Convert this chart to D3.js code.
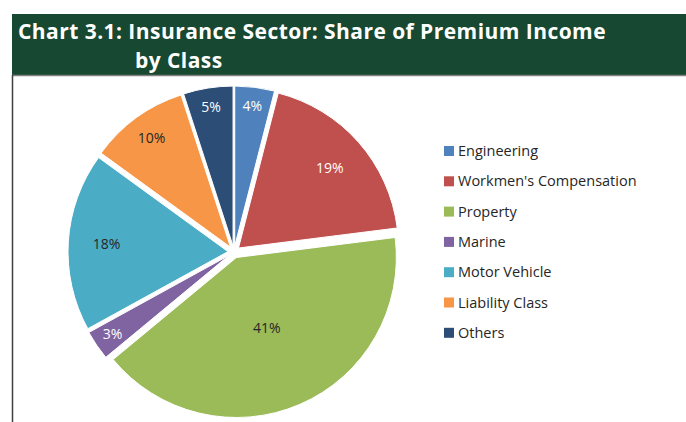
<!DOCTYPE html>
<html>
<head>
<meta charset="utf-8">
<script src="https://cdn.jsdelivr.net/npm/d3@7"></script>
<style>
  body { margin: 0; background: #fff; }
  svg { display: block; }
</style>
</head>
<body>
<svg id="chart"></svg>
<script>
// Share of premium income by class (%)
const categories = ['Engineering', "Workmen's Compensation", 'Property', 'Marine', 'Motor Vehicle', 'Liability Class', 'Others'];
const shares = [4, 19, 41, 3, 18, 10, 5];
const colors = ['#4F81BD', '#C0504D', '#9BBB59', '#8064A2', '#4BACC6', '#F79646', '#2C4D75'];
const labelColors = ['#fff', '#fff', '#262626', '#fff', '#262626', '#262626', '#fff'];

const width = 686;
const height = 422;

const svg = d3.select('#chart')
  .attr('width', width)
  .attr('height', height)
  .attr('viewBox', `0 0 ${width} ${height}`);

// Header band
svg.append('rect')
  .attr('x', 12).attr('y', 14)
  .attr('width', width - 12).attr('height', 61)
  .attr('fill', '#174832');

svg.append('line')
  .attr('x1', 12).attr('x2', width)
  .attr('y1', 75.5).attr('y2', 75.5)
  .attr('stroke', '#808080').attr('stroke-width', 1.5);

// left frame line
svg.append('line')
  .attr('x1', 12.5).attr('x2', 12.5)
  .attr('y1', 75).attr('y2', height)
  .attr('stroke', '#404040').attr('stroke-width', 1.5);

const titleLine = (txt, x, y) => svg.append('text')
  .attr('x', x).attr('y', y)
  .attr('fill', '#fff')
  .attr('font-family', '"Open Sans", sans-serif')
  .attr('font-weight', 'bold')
  .attr('font-size', '21px')
  .attr('letter-spacing', '0.45px')
  .text(txt);
titleLine('Chart 3.1: Insurance Sector: Share of Premium Income', 18, 39);
titleLine('by Class', 135, 68);

// Pie
const cx = 234, cy = 252, r = 160, explode = 6;

const pie = d3.pie().sort(null).value(d => d.value);
const arcs = pie(shares.map((v, i) => ({ name: categories[i], value: v, i })));
const arc = d3.arc().innerRadius(0).outerRadius(r);

// label distance from centre, Excel-like best fit
const labelRadius = v => v >= 30 ? 0.48 * r : v >= 15 ? 0.76 * r : v >= 8 ? 0.84 * r : 0.88 * r;

const g = svg.append('g').attr('transform', `translate(${cx},${cy})`);

const slice = g.selectAll('.slice')
  .data(arcs)
  .enter()
  .append('g')
  .attr('class', 'slice')
  .attr('transform', d => {
    const a = (d.startAngle + d.endAngle) / 2;
    return `translate(${Math.sin(a) * explode},${-Math.cos(a) * explode})`;
  });

slice.append('path')
  .attr('d', arc)
  .attr('fill', d => colors[d.data.i])
  .attr('stroke', '#fff')
  .attr('stroke-width', 1);

slice.append('text')
  .attr('x', d => Math.sin((d.startAngle + d.endAngle) / 2) * labelRadius(d.value))
  .attr('y', d => -Math.cos((d.startAngle + d.endAngle) / 2) * labelRadius(d.value))
  .attr('dy', '0.35em')
  .attr('text-anchor', 'middle')
  .attr('font-family', '"Open Sans", sans-serif')
  .attr('font-size', '14px')
  .attr('fill', d => labelColors[d.data.i])
  .text(d => `${d.value}%`);

// Legend
const legend = svg.append('g').attr('transform', 'translate(444,151)');
const row = legend.selectAll('.item')
  .data(categories)
  .enter()
  .append('g')
  .attr('class', 'item')
  .attr('transform', (d, i) => `translate(0,${i * 30.3})`);

row.append('rect')
  .attr('x', 0).attr('y', -5)
  .attr('width', 10).attr('height', 10)
  .attr('fill', (d, i) => colors[i]);

row.append('text')
  .attr('x', 14)
  .attr('dy', '0.35em')
  .attr('font-family', '"Open Sans", sans-serif')
  .attr('font-size', '14.5px')
  .attr('fill', '#262626')
  .text(d => d);
</script>
</body>
</html>
